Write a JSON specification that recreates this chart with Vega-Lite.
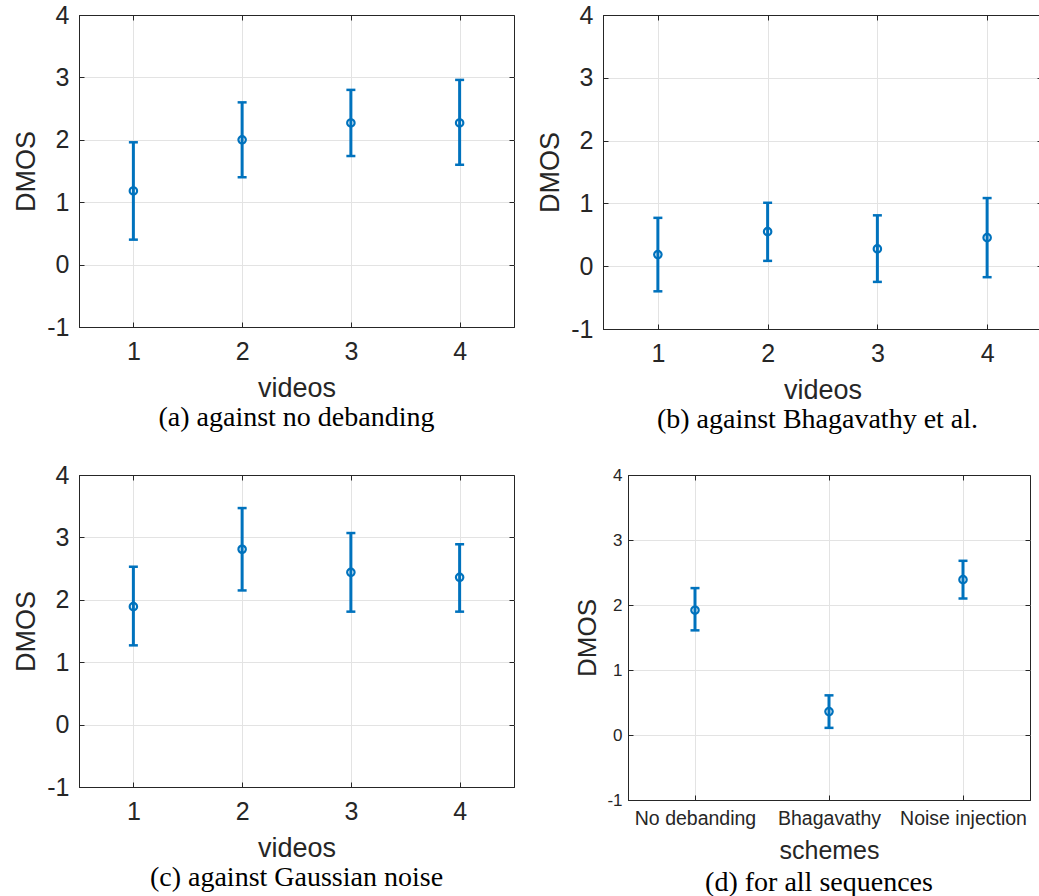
{
  "$schema": "https://vega.github.io/schema/vega-lite/v6.json",
  "padding": {"left": 12, "top": 2, "right": 0, "bottom": 0},
  "background": "white",
  "datasets": {
    "a": [
      {"video": 1, "mean": 1.18, "lo": 0.40, "hi": 1.96},
      {"video": 2, "mean": 2.00, "lo": 1.40, "hi": 2.60},
      {"video": 3, "mean": 2.27, "lo": 1.74, "hi": 2.80},
      {"video": 4, "mean": 2.27, "lo": 1.60, "hi": 2.96}
    ],
    "b": [
      {"video": 1, "mean": 0.185, "lo": -0.40, "hi": 0.77},
      {"video": 2, "mean": 0.55, "lo": 0.085, "hi": 1.01},
      {"video": 3, "mean": 0.275, "lo": -0.25, "hi": 0.81},
      {"video": 4, "mean": 0.455, "lo": -0.175, "hi": 1.085}
    ],
    "c": [
      {"video": 1, "mean": 1.89, "lo": 1.27, "hi": 2.53},
      {"video": 2, "mean": 2.81, "lo": 2.15, "hi": 3.47},
      {"video": 3, "mean": 2.44, "lo": 1.81, "hi": 3.07},
      {"video": 4, "mean": 2.36, "lo": 1.81, "hi": 2.89}
    ],
    "d": [
      {"scheme": "No debanding", "mean": 1.92, "lo": 1.61, "hi": 2.26},
      {"scheme": "Bhagavathy", "mean": 0.36, "lo": 0.11, "hi": 0.61},
      {"scheme": "Noise injection", "mean": 2.39, "lo": 2.10, "hi": 2.68}
    ]
  },
  "vconcat": [
    {
      "hconcat": [
        {
          "width": 435, "height": 312,
          "data": {"name": "a"},
          "title": {"text": "(a) against no debanding", "orient": "bottom", "offset": 3},
          "resolve": {"axis": {"x": "independent", "y": "independent"}},
          "layer": [
            {"mark": {"type": "rule", "color": "#0072BD", "strokeWidth": 3},
             "encoding": {
               "x": {"field": "video", "type": "quantitative", "scale": {"domain": [0.5, 4.5], "nice": false, "zero": false},
                     "axis": {"title": "videos", "values": [1, 2, 3, 4], "labelExpr": "'' + datum.value", "labelPadding": 17, "titlePadding": 11}},
               "y": {"field": "lo", "type": "quantitative", "scale": {"domain": [-1, 4], "nice": false, "zero": false},
                     "axis": {"title": "DMOS", "values": [-1, 0, 1, 2, 3, 4], "labelExpr": "'' + datum.value", "labelPadding": 15, "titlePadding": 6}},
               "y2": {"field": "hi"}}},
            {"mark": {"type": "tick", "orient": "horizontal", "color": "#0072BD", "size": 9, "thickness": 2.5, "opacity": 1},
             "encoding": {"x": {"field": "video", "type": "quantitative", "axis": null}, "y": {"field": "lo", "type": "quantitative", "axis": null}}},
            {"mark": {"type": "tick", "orient": "horizontal", "color": "#0072BD", "size": 9, "thickness": 2.5, "opacity": 1},
             "encoding": {"x": {"field": "video", "type": "quantitative", "axis": null}, "y": {"field": "hi", "type": "quantitative", "axis": null}}},
            {"mark": {"type": "point", "shape": "circle", "filled": false, "size": 55, "strokeWidth": 2.2, "color": "#0072BD", "opacity": 1},
             "encoding": {
               "x": {"field": "video", "type": "quantitative", "axis": {"orient": "top", "labels": false, "title": null, "grid": false, "domain": false, "values": [1, 2, 3, 4]}},
               "y": {"field": "mean", "type": "quantitative", "axis": {"orient": "right", "labels": false, "title": null, "grid": false, "domain": false, "values": [0, 1, 2, 3]}}}}
          ]
        },
        {
          "width": 439, "height": 314,
          "data": {"name": "b"},
          "title": {"text": "(b) against Bhagavathy et al.", "orient": "bottom", "offset": 3, "dx": -5},
          "resolve": {"axis": {"x": "independent", "y": "independent"}},
          "layer": [
            {"mark": {"type": "rule", "color": "#0072BD", "strokeWidth": 3},
             "encoding": {
               "x": {"field": "video", "type": "quantitative", "scale": {"domain": [0.5, 4.5], "nice": false, "zero": false},
                     "axis": {"title": "videos", "values": [1, 2, 3, 4], "labelExpr": "'' + datum.value", "labelPadding": 17, "titlePadding": 11}},
               "y": {"field": "lo", "type": "quantitative", "scale": {"domain": [-1, 4], "nice": false, "zero": false},
                     "axis": {"title": "DMOS", "values": [-1, 0, 1, 2, 3, 4], "labelExpr": "'' + datum.value", "labelPadding": 15, "titlePadding": 6}},
               "y2": {"field": "hi"}}},
            {"mark": {"type": "tick", "orient": "horizontal", "color": "#0072BD", "size": 9, "thickness": 2.5, "opacity": 1},
             "encoding": {"x": {"field": "video", "type": "quantitative", "axis": null}, "y": {"field": "lo", "type": "quantitative", "axis": null}}},
            {"mark": {"type": "tick", "orient": "horizontal", "color": "#0072BD", "size": 9, "thickness": 2.5, "opacity": 1},
             "encoding": {"x": {"field": "video", "type": "quantitative", "axis": null}, "y": {"field": "hi", "type": "quantitative", "axis": null}}},
            {"mark": {"type": "point", "shape": "circle", "filled": false, "size": 55, "strokeWidth": 2.2, "color": "#0072BD", "opacity": 1},
             "encoding": {
               "x": {"field": "video", "type": "quantitative", "axis": {"orient": "top", "labels": false, "title": null, "grid": false, "domain": false, "values": [1, 2, 3, 4]}},
               "y": {"field": "mean", "type": "quantitative", "axis": {"orient": "right", "labels": false, "title": null, "grid": false, "domain": false, "values": [0, 1, 2, 3]}}}}
          ]
        }
      ],
      "spacing": 21
    },
    {
      "hconcat": [
        {
          "width": 435, "height": 312,
          "data": {"name": "c"},
          "title": {"text": "(c) against Gaussian noise", "orient": "bottom", "offset": 3},
          "resolve": {"axis": {"x": "independent", "y": "independent"}},
          "layer": [
            {"mark": {"type": "rule", "color": "#0072BD", "strokeWidth": 3},
             "encoding": {
               "x": {"field": "video", "type": "quantitative", "scale": {"domain": [0.5, 4.5], "nice": false, "zero": false},
                     "axis": {"title": "videos", "values": [1, 2, 3, 4], "labelExpr": "'' + datum.value", "labelPadding": 17, "titlePadding": 11}},
               "y": {"field": "lo", "type": "quantitative", "scale": {"domain": [-1, 4], "nice": false, "zero": false},
                     "axis": {"title": "DMOS", "values": [-1, 0, 1, 2, 3, 4], "labelExpr": "'' + datum.value", "labelPadding": 15, "titlePadding": 6}},
               "y2": {"field": "hi"}}},
            {"mark": {"type": "tick", "orient": "horizontal", "color": "#0072BD", "size": 9, "thickness": 2.5, "opacity": 1},
             "encoding": {"x": {"field": "video", "type": "quantitative", "axis": null}, "y": {"field": "lo", "type": "quantitative", "axis": null}}},
            {"mark": {"type": "tick", "orient": "horizontal", "color": "#0072BD", "size": 9, "thickness": 2.5, "opacity": 1},
             "encoding": {"x": {"field": "video", "type": "quantitative", "axis": null}, "y": {"field": "hi", "type": "quantitative", "axis": null}}},
            {"mark": {"type": "point", "shape": "circle", "filled": false, "size": 55, "strokeWidth": 2.2, "color": "#0072BD", "opacity": 1},
             "encoding": {
               "x": {"field": "video", "type": "quantitative", "axis": {"orient": "top", "labels": false, "title": null, "grid": false, "domain": false, "values": [1, 2, 3, 4]}},
               "y": {"field": "mean", "type": "quantitative", "axis": {"orient": "right", "labels": false, "title": null, "grid": false, "domain": false, "values": [0, 1, 2, 3]}}}}
          ]
        },
        {
          "width": 402, "height": 325,
          "data": {"name": "d"},
          "title": {"text": "(d) for all sequences", "orient": "bottom", "offset": 5, "dx": -10},
          "resolve": {"axis": {"x": "independent", "y": "independent"}},
          "layer": [
            {"mark": {"type": "rule", "color": "#0072BD", "strokeWidth": 3},
             "encoding": {
               "x": {"field": "scheme", "type": "ordinal", "sort": ["No debanding", "Bhagavathy", "Noise injection"],
                     "scale": {"type": "point", "padding": 0.5},
                     "axis": {"title": "schemes", "labelAngle": 0, "labelFontSize": 19.5, "titleFontSize": 25, "labelPadding": 14, "titlePadding": 11}},
               "y": {"field": "lo", "type": "quantitative", "scale": {"domain": [-1, 4], "nice": false, "zero": false},
                     "axis": {"title": "DMOS", "values": [-1, 0, 1, 2, 3, 4], "labelExpr": "'' + datum.value", "labelFontSize": 17, "titleFontSize": 26, "labelPadding": 11, "titlePadding": 6}},
               "y2": {"field": "hi"}}},
            {"mark": {"type": "tick", "orient": "horizontal", "color": "#0072BD", "size": 9, "thickness": 2.5, "opacity": 1},
             "encoding": {"x": {"field": "scheme", "type": "ordinal", "sort": ["No debanding", "Bhagavathy", "Noise injection"], "axis": null}, "y": {"field": "lo", "type": "quantitative", "axis": null}}},
            {"mark": {"type": "tick", "orient": "horizontal", "color": "#0072BD", "size": 9, "thickness": 2.5, "opacity": 1},
             "encoding": {"x": {"field": "scheme", "type": "ordinal", "sort": ["No debanding", "Bhagavathy", "Noise injection"], "axis": null}, "y": {"field": "hi", "type": "quantitative", "axis": null}}},
            {"mark": {"type": "point", "shape": "circle", "filled": false, "size": 55, "strokeWidth": 2.2, "color": "#0072BD", "opacity": 1},
             "encoding": {
               "x": {"field": "scheme", "type": "ordinal", "sort": ["No debanding", "Bhagavathy", "Noise injection"], "axis": {"orient": "top", "labels": false, "title": null, "grid": false, "domain": false}},
               "y": {"field": "mean", "type": "quantitative", "axis": {"orient": "right", "labels": false, "title": null, "grid": false, "domain": false, "values": [0, 1, 2, 3]}}}}
          ]
        }
      ],
      "spacing": 59
    }
  ],
  "spacing": 27,
  "config": {
    "font": "Liberation Sans",
    "view": {"stroke": "#262626", "strokeWidth": 1},
    "axis": {
      "labelFont": "Liberation Sans", "labelFontSize": 25, "labelColor": "#262626",
      "titleFont": "Liberation Sans", "titleFontSize": 27, "titleFontWeight": "normal", "titleColor": "#262626",
      "grid": true, "gridWidth": 1, "gridColor": "#e3e3e3",
      "domain": true, "domainColor": "#262626", "domainWidth": 1,
      "ticks": true, "tickSize": -5, "tickColor": "#262626", "tickWidth": 1
    },
    "axisY": {
      "gridColor": {"condition": {"test": "datum.value === 4 || datum.value === -1", "value": "#262626"}, "value": "#e3e3e3"}
    },
    "title": {"font": "Liberation Serif", "fontSize": 28, "fontWeight": "normal", "color": "#000000", "anchor": "middle"}
  }
}
